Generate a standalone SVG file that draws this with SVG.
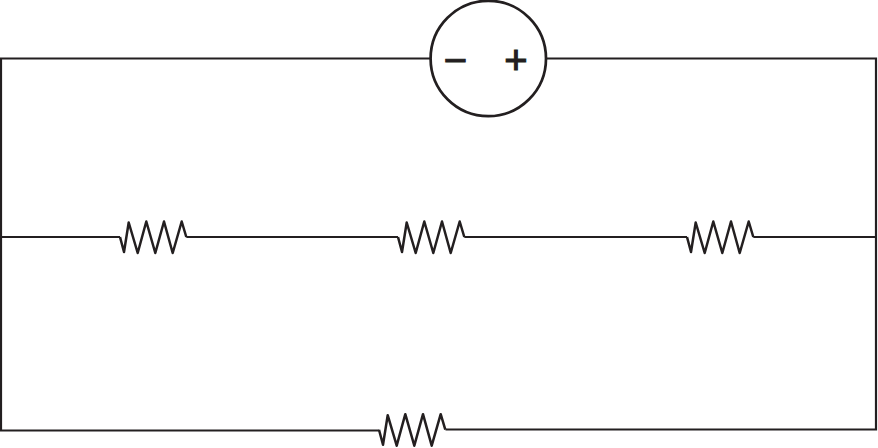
<svg xmlns="http://www.w3.org/2000/svg" width="878" height="448" viewBox="0 0 878 448">
<style>
.w{fill:none;stroke:#231f20;stroke-width:2.2;stroke-linejoin:miter}
.c{fill:none;stroke:#231f20;stroke-width:2.7}
.z{fill:none;stroke:#231f20;stroke-width:2.5;stroke-linejoin:round}
.s{fill:#231f20;stroke:#231f20;stroke-width:1.1;font-family:"Liberation Sans",Arial,sans-serif;font-size:40px;text-anchor:middle}
</style>
<defs>
<path id="zig" d="M0 0L4 15L8.7-14.5L17.7 16L26.3-15.5L35.3 16L44-15.5L52.7 16L61.7-15.5L66.3 0"/>
</defs>
<g id="connectors" class="w">
<path d="M430 58.5H1V430.5H379"/>
<path d="M547 58.5H876V429.5H445.5"/>
<path d="M1 237H120"/>
<path d="M186.3 237H398"/>
<path d="M464.3 237H687"/>
<path d="M753.3 237H876"/>
</g>
<g id="battery">
<circle class="c" cx="488.3" cy="58.5" r="57.7"/>
<text class="s" x="455.5" y="74">−</text>
<text class="s" x="516" y="74">+</text>
</g>
<g id="r1" class="z"><use href="#zig" x="120" y="237"/></g>
<g id="r2" class="z"><use href="#zig" x="398" y="237"/></g>
<g id="r3" class="z"><use href="#zig" x="687" y="237"/></g>
<g id="r4" class="z"><use href="#zig" x="379" y="429.7"/></g>
</svg>
